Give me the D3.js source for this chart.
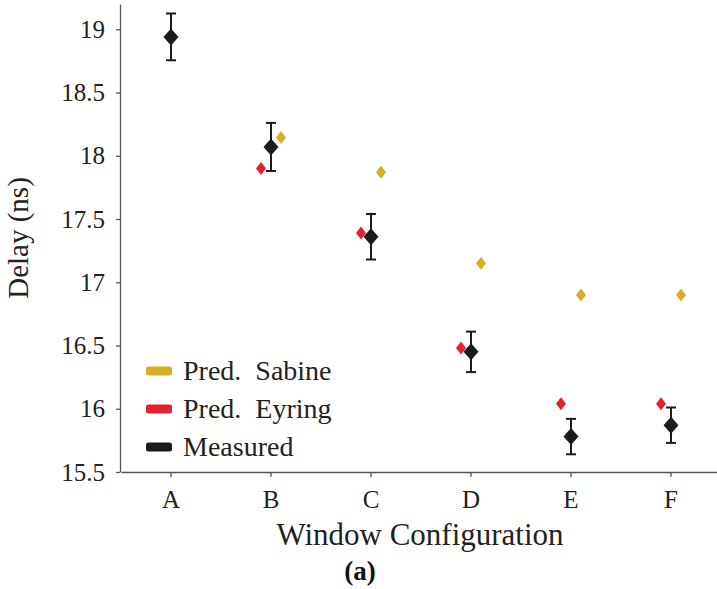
<!DOCTYPE html>
<html>
<head>
<meta charset="utf-8">
<script src="https://cdn.jsdelivr.net/npm/d3@7"></script>
<style>
  body { margin: 0; background: #fff; }
  svg { display: block; font-family: "Liberation Serif", "DejaVu Serif", serif; }
  .axis path, .axis line { stroke: #555; stroke-width: 1.3; }
  .axis text { font-size: 25px; fill: #222; font-family: "Liberation Serif", serif; }
</style>
</head>
<body>
<svg id="chart" width="717" height="589"></svg>
<script>
// categories and series values
const configs = ["A", "B", "C", "D", "E", "F"];
const measured = [18.94, 18.07, 17.36, 16.45, 15.78, 15.87];
const measuredErr = [0.185, 0.19, 0.18, 0.16, 0.14, 0.14];
const eyring = [null, 17.9, 17.39, 16.48, 16.04, 16.04];
const sabine = [null, 18.145, 17.87, 17.15, 16.9, 16.9];
const yTicks = [15.5, 16, 16.5, 17, 17.5, 18, 18.5, 19];

const legendItems = [
  { name: "Pred.\u00a0 Sabine", color: "#d8ae22" },
  { name: "Pred.\u00a0 Eyring", color: "#e8202c" },
  { name: "Measured", color: "#1b1b1b" }
];

const svg = d3.select("#chart");

const x = d3.scaleBand().domain(configs).range([121, 721]).paddingInner(0);
const y = d3.scaleLinear().domain([15.5, 19.2]).range([472, 4]);
const cx = (c) => x(c) + x.bandwidth() / 2;

// axes
svg.append("g")
  .attr("class", "axis")
  .attr("transform", "translate(120,0)")
  .call(d3.axisLeft(y).tickValues(yTicks).tickFormat(d3.format("")).tickSize(4).tickSizeOuter(0).tickPadding(11));

svg.append("g")
  .attr("class", "axis")
  .attr("transform", "translate(0,472)")
  .call(d3.axisBottom(x).tickSize(5).tickSizeOuter(0).tickPadding(13));

// diamond helper
const diamond = (w, h) => `M0,${-h / 2}L${w / 2},0L0,${h / 2}L${-w / 2},0Z`;

// Sabine predictions (offset right)
svg.append("g").selectAll("path")
  .data(configs.map((c, i) => ({ c, v: sabine[i] })).filter((d) => d.v !== null))
  .enter()
  .append("path")
  .attr("d", diamond(10, 13))
  .attr("fill", legendItems[0].color)
  .attr("transform", (d) => `translate(${cx(d.c) + 10},${y(d.v)})`);

// Eyring predictions (offset left)
svg.append("g").selectAll("path")
  .data(configs.map((c, i) => ({ c, v: eyring[i] })).filter((d) => d.v !== null))
  .enter()
  .append("path")
  .attr("d", diamond(10, 13))
  .attr("fill", legendItems[1].color)
  .attr("transform", (d) => `translate(${cx(d.c) - 10},${y(d.v)})`);

// measured with error bars
const meas = svg.append("g").selectAll("g")
  .data(configs.map((c, i) => ({ c, v: measured[i], e: measuredErr[i] })))
  .enter()
  .append("g")
  .attr("transform", (d) => `translate(${cx(d.c)},0)`);

meas.append("line")
  .attr("y1", (d) => y(d.v + d.e))
  .attr("y2", (d) => y(d.v - d.e))
  .attr("stroke", "#1b1b1b").attr("stroke-width", 2);
meas.append("line")
  .attr("x1", -5).attr("x2", 5)
  .attr("y1", (d) => y(d.v + d.e)).attr("y2", (d) => y(d.v + d.e))
  .attr("stroke", "#1b1b1b").attr("stroke-width", 2);
meas.append("line")
  .attr("x1", -5).attr("x2", 5)
  .attr("y1", (d) => y(d.v - d.e)).attr("y2", (d) => y(d.v - d.e))
  .attr("stroke", "#1b1b1b").attr("stroke-width", 2);
meas.append("path")
  .attr("d", diamond(15, 17))
  .attr("fill", "#1b1b1b")
  .attr("transform", (d) => `translate(0,${y(d.v)})`);

// legend
const legend = svg.append("g").selectAll("g")
  .data(legendItems)
  .enter()
  .append("g")
  .attr("transform", (d, i) => `translate(146,${371 + i * 38})`);
legend.append("rect")
  .attr("x", 0).attr("y", -4.5).attr("width", 26).attr("height", 9).attr("rx", 2.5)
  .attr("fill", (d) => d.color);
legend.append("text")
  .attr("x", 37).attr("y", 9)
  .attr("font-size", 28).attr("fill", "#222")
  .text((d) => d.name);

// axis titles
svg.append("text")
  .attr("transform", "translate(28,238) rotate(-90)")
  .attr("text-anchor", "middle")
  .attr("font-size", 29).attr("fill", "#222")
  .text("Delay (ns)");

svg.append("text")
  .attr("x", 420).attr("y", 545)
  .attr("text-anchor", "middle")
  .attr("font-size", 31).attr("fill", "#222")
  .text("Window Configuration");

svg.append("text")
  .attr("x", 360).attr("y", 580)
  .attr("text-anchor", "middle")
  .attr("font-size", 27).attr("font-weight", "bold").attr("fill", "#111")
  .text("(a)");
</script>
</body>
</html>
